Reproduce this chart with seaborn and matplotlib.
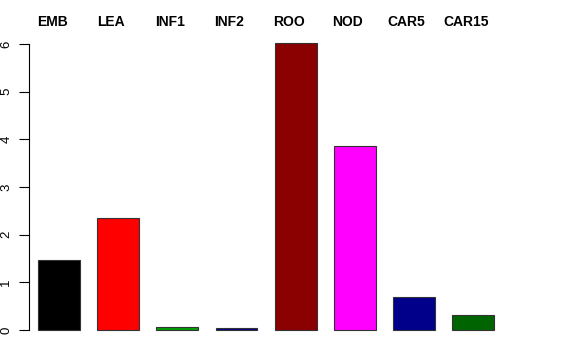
import pandas as pd
import matplotlib.pyplot as plt
import seaborn as sns

categorias = ['EMB', 'LEA', 'INF1', 'INF2', 'ROO', 'NOD', 'CAR5', 'CAR15']
valores = [1.47, 2.35, 0.06, 0.04, 6.02, 3.86, 0.69, 0.31]
cores = ['#000000', '#FF0000', '#00A000', '#00008B', '#8B0000', '#FF00FF', '#00008B', '#006400']
ticks_y = [0, 1, 2, 3, 4, 5, 6]

df = pd.DataFrame({'Categoria': categorias, 'Valor': valores})

sns.set_theme(style="white")
plt.rcParams['font.family'] = ['Liberation Sans', 'DejaVu Sans']

fig = plt.figure(figsize=(5.76, 3.6), dpi=100)
ax = fig.add_axes([29 / 576, 1 - 339.5 / 360, (502.5 - 29) / 576, (339.5 - 34.5) / 360])

sns.barplot(data=df, x='Categoria', y='Valor', hue='Categoria', palette=cores,
            saturation=1, legend=False, width=0.71, edgecolor='#333333',
            linewidth=0.8, ax=ax)

ax.set_xlim(-0.51, len(categorias) - 0.5)
ax.set_ylim(-0.2, 6.2)
ax.set_xlabel('')
ax.set_ylabel('')
ax.set_xticks([])

ax.set_yticks(ticks_y)
ax.set_yticklabels([str(t) for t in ticks_y], rotation=90, va='center', fontsize=9.5)
ax.tick_params(axis='y', direction='out', length=7, width=0.8, pad=5, left=True, colors='black')

for lado in ['top', 'right', 'bottom']:
    ax.spines[lado].set_visible(False)
ax.spines['left'].set_bounds(0, 6)
ax.spines['left'].set_color('black')
ax.spines['left'].set_linewidth(0.8)

for i, nome in enumerate(categorias):
    ax.text(i - 0.12, 6.32, nome, ha='center', va='bottom', fontsize=10,
            fontweight='bold', color='black', clip_on=False)

plt.savefig('out.png', dpi=100)
